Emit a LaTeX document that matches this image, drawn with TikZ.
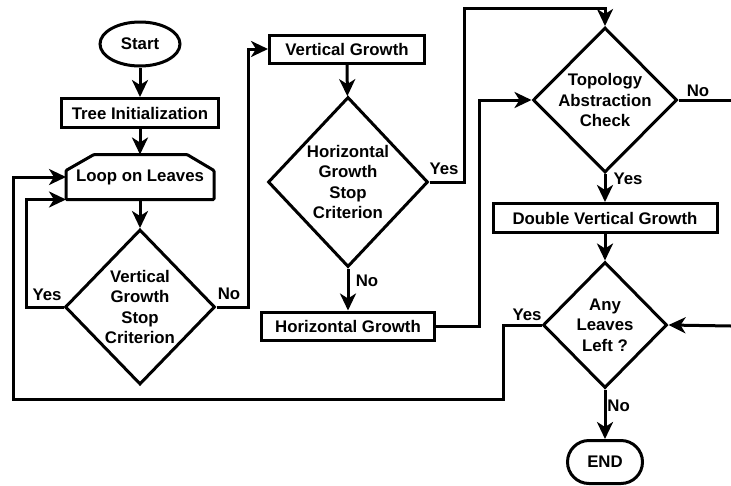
\documentclass[tikz,border=0pt]{standalone}
\usepackage{fontspec}
\setmainfont{Liberation Sans}
\usetikzlibrary{shapes.geometric,shapes.misc,arrows.meta}

\begin{document}
\begin{tikzpicture}[x=1pt, y=-1pt, line width=3pt, line join=miter,
		every node/.style={font=\fontsize{16.8}{20.5}\selectfont\bfseries, inner sep=0pt, align=center},
		>={Stealth[length=17pt, width=16pt, inset=5pt]},
		box/.style={draw, rectangle, minimum height=29pt},
		cond/.style={draw, diamond, inner sep=-6pt},
		lab/.style={font=\fontsize{16.8}{20.5}\selectfont\bfseries}]
	\useasboundingbox (0,0) rectangle (731,485);
	
	% Các khối của lưu đồ
	\node[draw, ellipse, minimum width=80pt, minimum height=44pt] (start) at (140,44) {Start};
	\node[box, minimum width=157pt] (tree) at (140,113) {Tree Initialization};
	\node[minimum width=145pt, minimum height=42pt] (loop) at (140,177) {Loop on Leaves};
	\draw[rounded corners=1pt] (loop.south west) -- ([yshift=-16pt]loop.north west) -- ([xshift=28pt]loop.north west)
		-- ([xshift=-27pt]loop.north east) -- ([yshift=-16pt]loop.north east) -- (loop.south east) -- cycle;
	\node[cond, minimum width=150pt, minimum height=155pt] (vgsc) at (140,307) {Vertical\\Growth\\Stop\\Criterion};
	\node[box, minimum width=155pt, minimum height=28pt] (vg) at (347,49) {Vertical Growth};
	\node[cond, minimum width=160pt, minimum height=170pt] (hgsc) at (348,182) {Horizontal\\Growth\\Stop\\Criterion};
	\node[box, minimum width=173pt, minimum height=28pt] (hg) at (348,326) {Horizontal Growth};
	\node[cond, minimum width=144pt, minimum height=145pt] (tac) at (605,100) {Topology\\Abstraction\\Check};
	\node[box, minimum width=224pt] (dvg) at (605,218) {Double Vertical Growth};
	\node[cond, minimum width=124pt, minimum height=126pt] (all) at (605,325) {Any\\Leaves\\Left ?};
	\node[draw, rounded rectangle, minimum width=75pt, minimum height=43pt] (end) at (605,462) {END};
	
	\coordinate (back) at (13,399);
	\coordinate (tacno) at (731,100);
	\coordinate (allin) at (731,326);
	
	% Các mũi tên
	\draw[->] (start) -- (tree);
	\draw[->] (tree) -- (loop);
	\draw[->] (loop) -- (vgsc);
	\draw[->] (vgsc.west) -- ++(-37,0) |- (loop.south west);
	\draw[->] (vgsc.east) -- ++(32,0) |- (vg.west);
	\draw[->] (vg) -- (hgsc);
	\draw[->] (hgsc) -- (hg);
	\draw[->] (hgsc.east) -- ++(35,0) -- ++(0,-174) -| (tac.north);
	\draw[->] (hg.east) -- ++(43,0) |- (tac.west);
	\draw (tac.east) -- (tacno);
	\draw[->] (tac) -- (dvg);
	\draw[->] (dvg) -- (all);
	\draw[->] (allin) -- (all.east);
	\draw[->] (all) -- (end);
	\draw[->] (all.west) -- ++(-38,0) |- (back) |- (loop.west);
	
	% Nhãn Yes / No
	\foreach \x/\y/\lab in {
		47/295/Yes, 229/294/No,
		444/169/Yes, 367/281/No,
		698/91/No, 628/179/Yes,
		527/315/Yes, 621/406/No
	} \node[lab] at (\x,\y) {\lab};
\end{tikzpicture}
\end{document}
